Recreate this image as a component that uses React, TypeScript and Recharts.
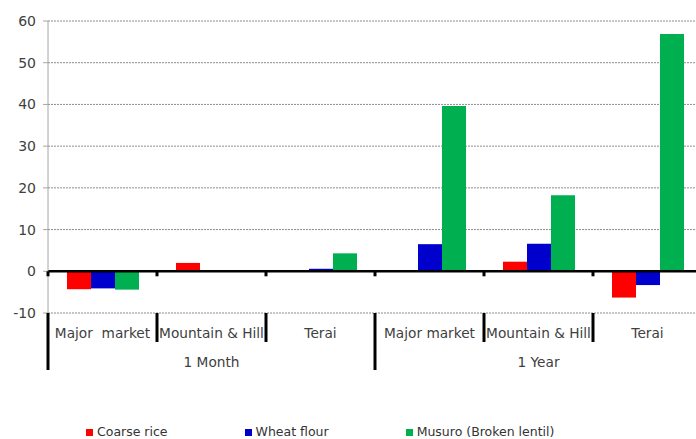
import React from 'react';
import {
  BarChart,
  Bar,
  XAxis,
  YAxis,
  CartesianGrid,
  ReferenceLine,
  Legend,
} from 'recharts';

// categories (two groups of three regions)
const categories = ['1M-MM', '1M-MH', '1M-T', '1Y-MM', '1Y-MH', '1Y-T'];
const categoryLabels = ['Major  market', 'Mountain & Hill', 'Terai', 'Major market', 'Mountain & Hill', 'Terai'];
const groupLabels = ['1 Month', '1 Year'];
const yTicks = [-10, 0, 10, 20, 30, 40, 50, 60];

// % change
const coarseRice = [-4.3, 2.0, 0, 0, 2.3, -6.3];
const wheatFlour = [-4.1, 0, 0.6, 6.5, 6.6, -3.3];
const musuro = [-4.4, 0, 4.3, 39.6, 18.2, 56.9];

const seriesNames = ['Coarse rice', 'Wheat flour', 'Musuro (Broken lentil)'];
const seriesKeys = ['rice', 'wheat', 'musuro'];
const colors = ['#ff0000', '#0000cc', '#00b050'];

const data = categories.map((c, i) => ({
  cat: c,
  rice: coarseRice[i],
  wheat: wheatFlour[i],
  musuro: musuro[i],
}));

const W = 710;
const H = 439;
const MARGIN = { top: 21, right: 8, left: 0, bottom: 0 };
const Y_AXIS_W = 48;
const X_AXIS_H = 100;
const LEGEND_H = 26;
const PLOT_W = W - MARGIN.right - Y_AXIS_W;
const PLOT_H = H - MARGIN.top - X_AXIS_H - LEGEND_H;
const Y_MIN = yTicks[0];
const Y_MAX = yTicks[yTicks.length - 1];
const FONT = '"DejaVu Sans", Verdana, sans-serif';

const CategoryTick = (props: any) => {
  const { x, y, payload } = props;
  const i = payload.index;
  const half = payload.offset > 0 ? payload.offset : PLOT_W / categories.length / 2;
  const left = x - half;
  const zeroY = y - (PLOT_H * (0 - Y_MIN)) / (Y_MAX - Y_MIN);
  const groupStart = i % 3 === 0;
  const last = i === categories.length - 1;
  return (
    <g>
      <line x1={left} x2={left} y1={zeroY} y2={zeroY + 5} stroke="#000" strokeWidth={3} />
      <line x1={left} x2={left} y1={y} y2={y + (groupStart ? 57 : 29)} stroke="#000" strokeWidth={3} />
      {last && (
        <line x1={x + half} x2={x + half} y1={y} y2={y + 57} stroke="#000" strokeWidth={3} />
      )}
      <text
        x={x}
        y={y + 20}
        textAnchor="middle"
        dominantBaseline="central"
        fontSize={13.7}
        fill="#404040"
        style={{ whiteSpace: 'pre' }}
      >
        {categoryLabels[i]}
      </text>
      {i % 3 === 1 && (
        <text x={x} y={y + 49} textAnchor="middle" dominantBaseline="central" fontSize={13.7} fill="#404040">
          {groupLabels[Math.floor(i / 3)]}
        </text>
      )}
    </g>
  );
};

const LegendContent = () => (
  <div style={{ height: LEGEND_H, display: 'flex', paddingLeft: 86, paddingTop: 12, boxSizing: 'border-box' }}>
    {seriesNames.map((n, i) => (
      <div key={n} style={{ display: 'flex', alignItems: 'center', marginRight: 77, height: 14 }}>
        <span style={{ width: 7, height: 7, background: colors[i], display: 'inline-block', marginRight: 4 }} />
        <span style={{ fontSize: 12.5, color: '#333', lineHeight: '14px' }}>{n}</span>
      </div>
    ))}
  </div>
);

export default function App() {
  return (
    <div
      style={{
        position: 'absolute',
        left: 0,
        top: 0,
        width: 696,
        height: 439,
        overflow: 'hidden',
        background: '#fff',
        fontFamily: FONT,
      }}
    >
      <BarChart width={W} height={H} data={data} margin={MARGIN} barGap={0} barSize={24}>
        <CartesianGrid vertical={false} stroke="#8c8c8c" strokeDasharray="2 1" />
        <XAxis
          dataKey="cat"
          height={X_AXIS_H}
          axisLine={false}
          tickLine={false}
          tickSize={0}
          tickMargin={0}
          interval={0}
          tick={<CategoryTick />}
        />
        <YAxis
          width={Y_AXIS_W}
          domain={[Y_MIN, Y_MAX]}
          ticks={yTicks}
          allowDataOverflow
          axisLine={{ stroke: '#a6a6a6' }}
          tickLine={{ stroke: '#a6a6a6' }}
          tickSize={5}
          tickMargin={7}
          tick={{ fontSize: 14, fill: '#404040', fontFamily: FONT }}
        />
        {seriesKeys.map((k, i) => (
          <Bar key={k} dataKey={k} name={seriesNames[i]} fill={colors[i]} isAnimationActive={false} />
        ))}
        <ReferenceLine y={0} stroke="#000" strokeWidth={2.5} />
        <Legend
          verticalAlign="bottom"
          height={LEGEND_H}
          content={<LegendContent />}
          wrapperStyle={{ left: 0, width: W }}
        />
      </BarChart>
    </div>
  );
}
